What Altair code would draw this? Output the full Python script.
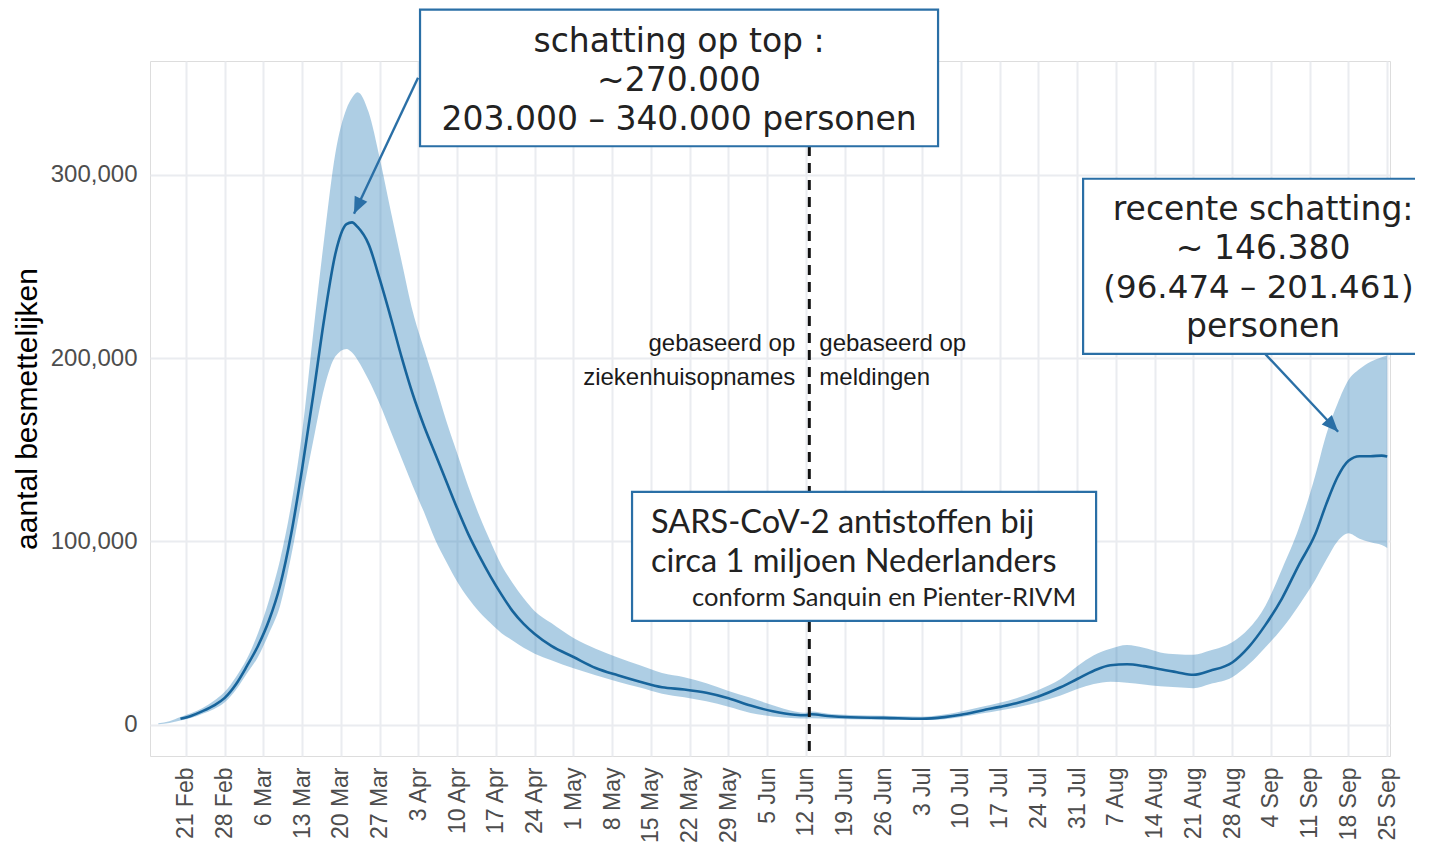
import altair as alt
import pandas as pd

# ---------------- data ----------------
dates = [
    "2020-02-16", "2020-02-18", "2020-02-20", "2020-02-22", "2020-02-24", "2020-02-26", "2020-02-28",
    "2020-03-01", "2020-03-03", "2020-03-05", "2020-03-07", "2020-03-09", "2020-03-11", "2020-03-13",
    "2020-03-15", "2020-03-17", "2020-03-19", "2020-03-21", "2020-03-22", "2020-03-23", "2020-03-25",
    "2020-03-27", "2020-03-29", "2020-03-31", "2020-04-02", "2020-04-04", "2020-04-06", "2020-04-08",
    "2020-04-10", "2020-04-12", "2020-04-14", "2020-04-16", "2020-04-18", "2020-04-20", "2020-04-22",
    "2020-04-24", "2020-04-27", "2020-05-01", "2020-05-05", "2020-05-09", "2020-05-13", "2020-05-17",
    "2020-05-21", "2020-05-25", "2020-05-29", "2020-06-02", "2020-06-06", "2020-06-10", "2020-06-12",
    "2020-06-13", "2020-06-16", "2020-06-20", "2020-06-26", "2020-07-03", "2020-07-07", "2020-07-10",
    "2020-07-14", "2020-07-17", "2020-07-20", "2020-07-24", "2020-07-28", "2020-07-31", "2020-08-03",
    "2020-08-06", "2020-08-09", "2020-08-12", "2020-08-15", "2020-08-18", "2020-08-21", "2020-08-24",
    "2020-08-28", "2020-08-31", "2020-09-03", "2020-09-06", "2020-09-09", "2020-09-12", "2020-09-14",
    "2020-09-16", "2020-09-18", "2020-09-20", "2020-09-22", "2020-09-24", "2020-09-25",
]
# thousands of persons
median_k = [
    None, None, 3.3, 5.0, 7.5, 10.5, 14.7,
    22, 32, 43, 57, 76, 104, 140,
    180, 222, 257, 273, 274, 271.5, 262,
    243, 222, 200, 180, 163, 148, 133,
    118, 104, 92, 81, 71, 62, 55,
    49.5, 43, 37, 31, 27, 23.5, 20.5,
    19.3, 17.5, 14.5, 10.5, 7.4, 5.5, 5.2,
    5.8, 4.8, 4.1, 3.8, 3.3, 4.2, 5.5,
    8.0, 9.8, 11.8, 15.5, 20.5, 25, 29.5,
    32.5, 33, 32, 30.3, 28.7, 27.3, 29.5,
    34, 42.5, 54.5, 69, 87, 104, 120.5,
    135, 144, 146.5, 146.5, 146.8, 146.38,
]
lower_k = [
    0.3, 1.0, 2.3, 3.8, 6.0, 8.5, 12.3,
    19, 28, 37, 50, 65, 92, 124,
    155, 184, 201, 205, 203, 199, 188,
    175, 160, 145, 130, 116, 101, 89,
    78, 69, 61.5, 55.5, 50, 46, 42,
    38.8, 35.2, 30.8, 27, 23.5, 20.3, 17,
    15, 12.8, 9.8, 6.5, 4.6, 3.6, 3.4,
    3.6, 3.3, 3.0, 2.8, 2.6, 3.1, 4.2,
    6.3, 7.8, 9.5, 12.3, 16, 19.5, 22.2,
    23.5, 23, 22, 21, 20.5, 20, 22.3,
    26, 33, 42.3, 52.5, 65, 79, 90,
    100, 104.5, 101.5, 99.5, 98, 96.474,
]
upper_k = [
    0.8, 2.0, 4.3, 6.4, 9.2, 13, 18,
    26, 36, 50, 68, 90, 120, 160,
    214, 266, 312, 336, 342, 345, 334,
    309, 280, 252, 225, 205, 186, 166,
    148, 130, 114, 100, 87, 77.4, 69,
    62, 55.5, 47.3, 41.5, 36.7, 32.5, 28.3,
    26, 22.7, 18.5, 14.7, 10.7, 7.3, 6.6,
    7.2, 6.0, 5.3, 4.9, 4.4, 5.6, 7.3,
    10, 12, 14.5, 19, 25, 32, 38,
    41.5, 43.5, 42, 39.5, 38.5, 38.2, 40.5,
    45, 52.5, 65, 85, 107, 136, 158.5,
    175, 188, 194, 198, 200.5, 201.461,
]
assert len(dates) == len(median_k) == len(lower_k) == len(upper_k)

tick_dates = [
    "2020-02-21", "2020-02-28", "2020-03-06", "2020-03-13", "2020-03-20", "2020-03-27",
    "2020-04-03", "2020-04-10", "2020-04-17", "2020-04-24", "2020-05-01", "2020-05-08",
    "2020-05-15", "2020-05-22", "2020-05-29", "2020-06-05", "2020-06-12", "2020-06-19",
    "2020-06-26", "2020-07-03", "2020-07-10", "2020-07-17", "2020-07-24", "2020-07-31",
    "2020-08-07", "2020-08-14", "2020-08-21", "2020-08-28", "2020-09-04", "2020-09-11",
    "2020-09-18", "2020-09-25",
]
y_ticks = [0, 100000, 200000, 300000]

# texts
box1_lines = ["schatting op top :", "~270.000", "203.000 \u2013 340.000 personen"]
box2_lines = ["recente schatting:", "~ 146.380", "personen"]
box2_range = "(96.474 \u2013 201.461)"
box3_lines = ["SARS-CoV-2 antistoffen bij", "circa 1 miljoen Nederlanders"]
box3_note = "conform Sanquin en Pienter-RIVM"
left_note = ["gebaseerd op", "ziekenhuisopnames"]
right_note = ["gebaseerd op", "meldingen"]

# ---------------- annotation placement (days after 21 Feb, persons) ----------------
BASE = pd.Timestamp("2020-02-21")


def at(days):
    return BASE + pd.Timedelta(days=days)


switch_day = 112.6
box_x = [42.28, 162.06, 80.58]
box_x2 = [135.86, 228.0, 164.41]
box_y = [315500, 202300, 56700]
box_y2 = [390000, 297800, 127000]
box1_x, box1_y = 89.07, [367100, 345800, 324500]
box2_x, box2_y = 194.58, [275400, 254200, 211600]
box2_range_x, box2_range_y = 193.75, 232900
box3_x, box3_y = 84.0, [104700, 83400]
box3_note_x, box3_note_y = 160.79, 64800
note_y = [204100, 185400]
arrows = {
    "x": [41.92, 194.94], "y": [352900, 202300],
    "x2": [30.35, 208.13], "y2": [278700, 159800],
}

BLUE = "#2a6fa6"
LINE = "#17649b"
GRID = "#eaecf0"

# ---------------- tables ----------------
df = pd.DataFrame({
    "date": pd.to_datetime(dates),
    "median": [None if v is None else v * 1000 for v in median_k],
    "lower": [v * 1000 for v in lower_k],
    "upper": [v * 1000 for v in upper_k],
})
rule_df = pd.DataFrame({"date": [at(switch_day)]})
box_df = pd.DataFrame({
    "date": [at(d) for d in box_x], "date2": [at(d) for d in box_x2],
    "val": box_y, "val2": box_y2,
})
b1_df = pd.DataFrame({"date": [at(box1_x)] * 3, "val": box1_y, "text": box1_lines})
b2_df = pd.DataFrame({"date": [at(box2_x)] * 3, "val": box2_y, "text": box2_lines})
b2r_df = pd.DataFrame({"date": [at(box2_range_x)], "val": [box2_range_y], "text": [box2_range]})
b3_df = pd.DataFrame({"date": [at(box3_x)] * 2, "val": box3_y, "text": box3_lines})
b3n_df = pd.DataFrame({"date": [at(box3_note_x)], "val": [box3_note_y], "text": [box3_note]})
nl_df = pd.DataFrame({"date": [at(switch_day)] * 2, "val": note_y, "text": left_note})
nr_df = pd.DataFrame({"date": [at(switch_day)] * 2, "val": note_y, "text": right_note})
arr_df = pd.DataFrame({
    "date": [at(d) for d in arrows["x"]], "val": arrows["y"],
    "date2": [at(d) for d in arrows["x2"]], "val2": arrows["y2"],
})
head1_df = pd.DataFrame({"date": [at(arrows["x2"][0])], "val": [arrows["y2"][0]]})
head2_df = pd.DataFrame({"date": [at(arrows["x2"][1])], "val": [arrows["y2"][1]]})

# ---------------- scales & axes ----------------
def dt(s):
    t = pd.Timestamp(s)
    return alt.DateTime(year=t.year, month=t.month, date=t.day)


xscale = alt.Scale(domain=[alt.DateTime(year=2020, month=2, date=14, hours=12),
                           alt.DateTime(year=2020, month=9, date=25, hours=12)])
yscale = alt.Scale(domain=[-17000, 362000], nice=False, zero=False)

xaxis = alt.Axis(
    values=[dt(s) for s in tick_dates], format="%-d %b", labelAngle=270,
    labelFont="Liberation Sans", labelFontSize=23, labelColor="#4d4d4d",
    labelPadding=11, ticks=False, domain=False, grid=True,
    gridColor=GRID, gridWidth=2, labelOverlap=False, labelFlush=False,
)
yaxis = alt.Axis(
    values=y_ticks, format=",d", labelFont="Liberation Sans", labelFontSize=24,
    labelColor="#4d4d4d", labelPadding=13, ticks=False, domain=False, grid=True,
    gridColor=GRID, gridWidth=2,
    titleFont="Liberation Sans", titleFontSize=30, titleFontWeight="normal",
    titleColor="#000000", titlePadding=8,
)
TITLE = "aantal besmettelijken"


def X(field="date"):
    return alt.X(f"{field}:T", scale=xscale, axis=xaxis, title=None)


def Y(field="val"):
    return alt.Y(f"{field}:Q", scale=yscale, axis=yaxis, title=TITLE)


# ---------------- layers ----------------
band = alt.Chart(df).mark_area(color="#1f78b4", opacity=0.36, interpolate="monotone").encode(
    x=X(), y=Y("lower"), y2="upper:Q")
line = alt.Chart(df).mark_line(color=LINE, strokeWidth=2.6, interpolate="monotone").encode(
    x=X(), y=Y("median"))
rule = alt.Chart(rule_df).mark_rule(color="#111111", strokeDash=[10, 7], strokeWidth=3).encode(
    x=X())
note_l = alt.Chart(nl_df).mark_text(
    font="Liberation Sans", fontSize=24, align="right", baseline="alphabetic", dx=-14,
    color="#1a1a1a").encode(x=X(), y=Y(), text="text:N")
note_r = alt.Chart(nr_df).mark_text(
    font="Liberation Sans", fontSize=24, align="left", baseline="alphabetic", dx=10,
    color="#1a1a1a").encode(x=X(), y=Y(), text="text:N")
arr_lines = alt.Chart(arr_df).mark_rule(color=BLUE, strokeWidth=2.4).encode(
    x=X(), x2="date2:T", y=Y(), y2="val2:Q")
boxes = alt.Chart(box_df).mark_rect(fill="white", stroke=BLUE, strokeWidth=2.2).encode(
    x=X(), x2="date2:T", y=Y(), y2="val2:Q")
t1 = alt.Chart(b1_df).mark_text(
    font="DejaVu Sans", fontSize=33, align="center", baseline="alphabetic",
    color="#222222").encode(x=X(), y=Y(), text="text:N")
t2 = alt.Chart(b2_df).mark_text(
    font="DejaVu Sans", fontSize=33, align="center", baseline="alphabetic",
    color="#222222").encode(x=X(), y=Y(), text="text:N")
t2r = alt.Chart(b2r_df).mark_text(
    font="DejaVu Sans", fontSize=32.5, align="center", baseline="alphabetic",
    color="#222222").encode(x=X(), y=Y(), text="text:N")
t3 = alt.Chart(b3_df).mark_text(
    font="Lato", fontSize=32.5, align="left", baseline="alphabetic",
    color="#222222").encode(x=X(), y=Y(), text="text:N")
t3n = alt.Chart(b3n_df).mark_text(
    font="Lato", fontSize=25.5, align="right", baseline="alphabetic",
    color="#222222").encode(x=X(), y=Y(), text="text:N")
HEAD = "M0,0 L0.42,1 L-0.42,1 Z"
head1 = alt.Chart(head1_df).mark_point(
    shape=HEAD, size=1100, filled=True, opacity=1, color=BLUE, strokeWidth=0, angle=205
).encode(x=X(), y=Y())
head2 = alt.Chart(head2_df).mark_point(
    shape=HEAD, size=1100, filled=True, opacity=1, color=BLUE, strokeWidth=0, angle=137
).encode(x=X(), y=Y())

chart = alt.layer(
    band, line, rule, note_l, note_r, arr_lines, boxes, t1, t2, t2r, t3, t3n, head1, head2
).properties(
    width=1240, height=695,
    autosize=alt.AutoSizeParams(type="none"),
    padding={"left": 142, "top": 53, "right": 25, "bottom": 87},
).configure_view(stroke=None).configure(background="white")

chart.save("out.html", embed_options={"renderer": "svg", "actions": False})
